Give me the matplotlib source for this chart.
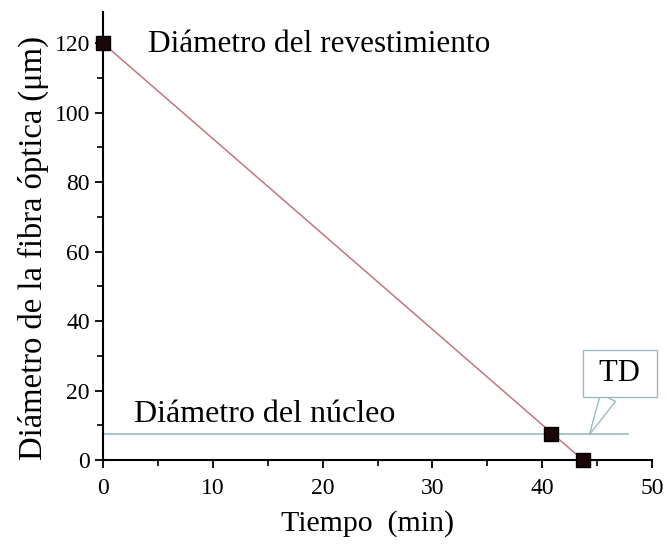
import matplotlib
matplotlib.use("Agg")
import matplotlib.pyplot as plt
from matplotlib.ticker import MultipleLocator

# data
tiempo = [0.0, 40.8, 43.7]
diametro = [120.0, 7.4, 0.0]
nucleo_y = 7.5
nucleo_x = [0.0, 47.8]
td_point = (44.3, 7.3)

plt.rcParams['font.family'] = ['Liberation Serif', 'DejaVu Serif']

fig = plt.figure(figsize=(6.67, 5.44), dpi=100)
ax = fig.add_axes([103/667, 1 - 460/544, (652-103)/667, (460-12)/544])

# fitted line through the first and last points
ax.plot([tiempo[0], tiempo[-1]], [diametro[0], diametro[-1]], color='#c4757e', lw=1.1, zorder=2)
ax.plot(nucleo_x, [nucleo_y, nucleo_y], color='#8fb3bd', lw=1.1, zorder=1)
ax.plot(tiempo, diametro, linestyle='none', marker='s', ms=10, color='black',
        markerfacecolor='#1a0808', zorder=3, clip_on=False)

ax.text(4.1, 119.5, 'Diámetro del revestimiento', fontsize=22.5, va='center', ha='left')
ax.text(2.8, 13.2, 'Diámetro del núcleo', fontsize=23, va='center', ha='left')

ax.annotate(' TD ', xy=td_point, xytext=(47.1, 24.9), fontsize=22, ha='center', va='center',
            annotation_clip=False,
            bbox=dict(boxstyle='square,pad=0.3', fc='white', ec='#9dbac4', lw=1.0),
            arrowprops=dict(arrowstyle='wedge,tail_width=0.55', fc='white', ec='#9dbac4', lw=1.0,
                            shrinkA=0, shrinkB=0))

ax.set_xlim(0, 50)
ax.set_ylim(0, 129)
ax.xaxis.set_major_locator(MultipleLocator(10))
ax.xaxis.set_minor_locator(MultipleLocator(5))
ax.set_yticks([0, 20, 40, 60, 80, 100, 120])
ax.yaxis.set_minor_locator(MultipleLocator(10))

for s in ['top', 'right']:
    ax.spines[s].set_visible(False)
for s in ['left', 'bottom']:
    ax.spines[s].set_linewidth(1.5)
ax.tick_params(which='major', direction='out', length=6, width=1.3, labelsize=17)
ax.tick_params(axis='x', which='major', pad=7)
ax.tick_params(which='minor', direction='out', length=4, width=1.2)

ax.set_xlabel('Tiempo  (min)', fontsize=21.5, labelpad=8)
ax.set_ylabel('Diámetro de la fibra óptica (μm)', fontsize=23.5, labelpad=4)
ax.xaxis.label.set_x(0.481)
ax.yaxis.label.set_y(0.473)

fig.savefig('out.png', dpi=100)
